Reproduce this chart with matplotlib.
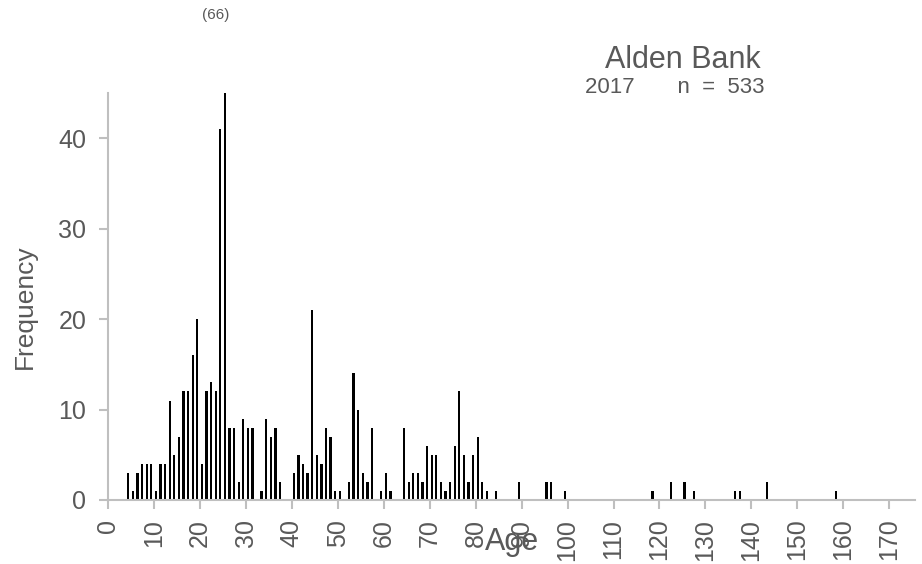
import numpy as np
import matplotlib.pyplot as plt

plt.rcParams['font.family'] = ['Liberation Sans', 'DejaVu Sans']

# age (years) and number of fish at that age
ages = [4, 5, 6, 7, 8, 9, 10, 11, 12, 13, 14, 15, 16, 17, 18, 19, 20, 21, 22, 23,
        24, 25, 26, 27, 28, 29, 30, 31, 33, 34, 35, 36, 37, 40, 41, 42, 43, 44, 45,
        46, 47, 48, 49, 50, 52, 53, 54, 55, 56, 57, 59, 60, 61, 64, 65, 66, 67, 68,
        69, 70, 71, 72, 73, 74, 75, 76, 77, 78, 79, 80, 81, 82, 84, 89, 95, 96, 99,
        118, 122, 125, 127, 136, 137, 143, 158]
counts = [3, 1, 3, 4, 4, 4, 1, 4, 4, 11, 5, 7, 12, 12, 16, 20, 4, 12, 13, 12,
          41, 66, 8, 8, 2, 9, 8, 8, 1, 9, 7, 8, 2, 3, 5, 4, 3, 21, 5,
          4, 8, 7, 1, 1, 2, 14, 10, 3, 2, 8, 1, 3, 1, 8, 2, 3, 3, 2,
          6, 5, 5, 2, 1, 2, 6, 12, 5, 2, 5, 7, 2, 1, 1, 2, 2, 2, 1,
          1, 2, 2, 1, 1, 1, 2, 1]
x_ticks = list(range(0, 171, 10))
y_ticks = [0, 10, 20, 30, 40]

site = "Alden Bank"
year = 2017
y_max = 45

grey = "#bfbfbf"
text_grey = "#595959"

fig = plt.figure(figsize=(9.22, 5.64), dpi=100)
ax = fig.add_axes([0.117, 0.1135, 0.875, 0.7215])

ages_arr = np.array(ages)
ax.bar(ages_arr + 0.45, counts, width=0.5, color="black", linewidth=0)

ax.set_xlim(0, 175.5)
ax.set_ylim(0, y_max)
ax.set_xticks(x_ticks)
ax.set_xticklabels([str(t) for t in x_ticks], rotation=90, fontsize=18)
ax.set_yticks(y_ticks)
ax.set_yticklabels([str(t) for t in y_ticks], fontsize=18)
ax.tick_params(axis="both", colors=grey, labelcolor=text_grey, width=1.5, length=6.5)
ax.tick_params(axis="x", pad=7)
ax.tick_params(axis="y", pad=9)

for side in ["top", "right"]:
    ax.spines[side].set_visible(False)
for side in ["left", "bottom"]:
    ax.spines[side].set_color(grey)
    ax.spines[side].set_linewidth(1.5)

# tallest bar runs past the axis, so its value is written above it
peak = int(np.argmax(counts))
ax.annotate(f"({counts[peak]})", xy=(ages[peak], y_max), xytext=(-5, 56),
            textcoords="offset points", ha="center", va="center",
            fontsize=11, color=text_grey, annotation_clip=False)

fig.text(0.027, 0.456, "Frequency", rotation=90, ha="center", va="center",
         fontsize=19, color=text_grey)
fig.text(0.555, 0.0248, "Age", ha="center", va="baseline", fontsize=22, color=text_grey)

fig.text(0.741, 0.894, site, ha="center", va="center", fontsize=22, color=text_grey)
fig.text(0.635, 0.844, f"{year}       n  =  {sum(counts)}", ha="left", va="center",
         fontsize=16, color=text_grey)

fig.savefig("out.png", dpi=100)
